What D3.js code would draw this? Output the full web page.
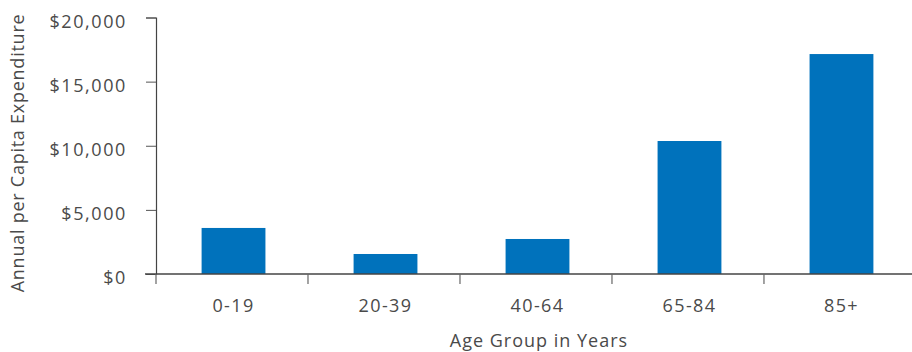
<!DOCTYPE html>
<html>
<head>
<meta charset="utf-8">
<script src="https://cdn.jsdelivr.net/npm/d3@7"></script>
<style>
  html, body { margin: 0; padding: 0; background: #fff; }
  svg text { font-family: "Open Sans", Lato, sans-serif; fill: #4a4a4a; }
</style>
</head>
<body>
<svg id="chart" width="912" height="352"></svg>
<script>
// Annual per capita health expenditure by age group
const ageGroups = ["0-19", "20-39", "40-64", "65-84", "85+"];
const spending = [3590, 1560, 2730, 10370, 17150];
const yTicks = [0, 5000, 10000, 15000, 20000];

const svg = d3.select("#chart");
const plotLeft = 156, plotBottom = 274, plotTop = 17.5, plotRight = 919;

const x = d3.scaleBand().domain(ageGroups).range([plotLeft, plotRight]).paddingInner(0.58).paddingOuter(0.3);
const y = d3.scaleLinear().domain([0, 20000]).range([plotBottom, plotTop]);

const fmt = d => "$" + d3.format(",")(d);

// bars
svg.append("g").selectAll("rect")
  .data(ageGroups.map((g, i) => ({ g, v: spending[i] })))
  .join("rect")
  .attr("x", d => x(d.g))
  .attr("width", x.bandwidth())
  .attr("y", d => y(d.v))
  .attr("height", d => y(0) - y(d.v))
  .attr("fill", "#0072bc");

// y axis
const yAxis = svg.append("g").attr("transform", `translate(${plotLeft},0)`)
  .call(d3.axisLeft(y).tickValues(yTicks).tickFormat(fmt).tickSize(10).tickPadding(19));
yAxis.select(".domain").attr("stroke", "#444").attr("stroke-width", 1.2);
yAxis.selectAll(".tick line").attr("stroke", "#555");
yAxis.selectAll(".tick text")
  .attr("font-size", 18).attr("letter-spacing", "1.6px")
  .attr("dy", "0.55em").attr("fill", "#4a4a4a");

// x axis: ticks at band boundaries
const xAxisG = svg.append("g").attr("transform", `translate(0,${plotBottom})`);
xAxisG.append("line")
  .attr("x1", plotLeft - 11).attr("x2", 912)
  .attr("stroke", "#444").attr("stroke-width", 1.6);
const step = x.step();
const bounds = d3.range(ageGroups.length).map(i => plotLeft + i * step);
xAxisG.selectAll("line.tk").data(bounds).join("line")
  .attr("class", "tk")
  .attr("x1", d => d).attr("x2", d => d)
  .attr("y1", 0).attr("y2", 10)
  .attr("stroke", "#666").attr("stroke-width", 1.2);
xAxisG.selectAll("text").data(ageGroups).join("text")
  .attr("x", d => x(d) + x.bandwidth() / 2)
  .attr("y", 38)
  .attr("text-anchor", "middle")
  .attr("font-size", 18).attr("letter-spacing", "1.4px")
  .text(d => d);

// axis titles
svg.append("text")
  .attr("x", 539).attr("y", 347)
  .attr("text-anchor", "middle").attr("font-size", 18).attr("letter-spacing", "1px")
  .text("Age Group in Years");

svg.append("text")
  .attr("transform", "translate(24,153) rotate(-90)")
  .attr("text-anchor", "middle").attr("font-size", 18).attr("letter-spacing", "0.75px")
  .text("Annual per Capita Expenditure");
</script>
</body>
</html>
